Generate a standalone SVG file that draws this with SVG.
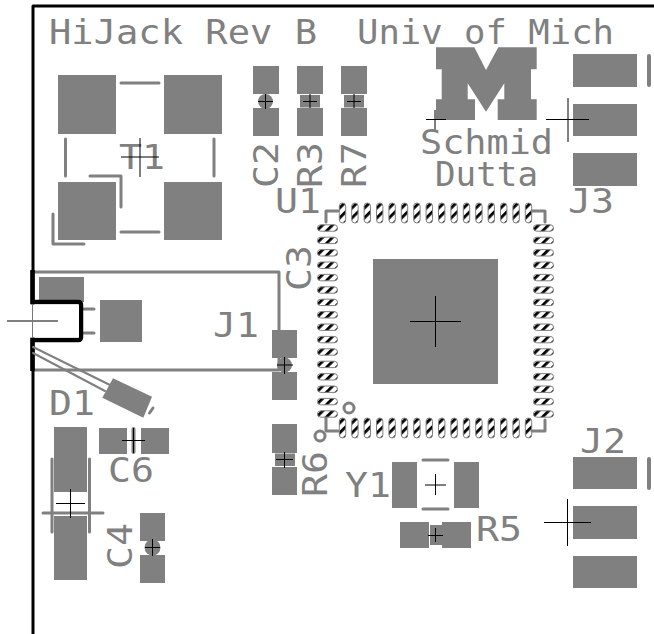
<svg xmlns="http://www.w3.org/2000/svg" width="654" height="634" viewBox="0 0 654 634">
<style>
.p{fill:#808080}
.l{fill:none;stroke:#808080;stroke-width:3;stroke-linecap:round;stroke-linejoin:round}
.x{fill:none;stroke:#000;stroke-width:1}
.t{font-family:"DejaVu Sans Mono","Liberation Mono",monospace;font-size:33px;fill:#808080}
.b{fill:none;stroke:#000;stroke-width:3;stroke-linejoin:round}
.pl{stroke:#808080;stroke-width:1}
</style>
<defs>
<pattern id="h" width="7" height="7" patternUnits="userSpaceOnUse" patternTransform="rotate(45)">
<rect width="7" height="7" fill="#fff"/><rect width="2.8" height="7" fill="#000"/>
</pattern>
<rect id="v" class="pl" x="-3.2" y="-10" width="6.400" height="20" rx="3.200" fill="url(#h)"/>
<rect id="w" class="pl" x="-10" y="-3.2" width="20" height="6.400" rx="3.200" fill="url(#h)"/>
<g id="row">
<use href="#v" x="342.5"/><use href="#v" x="354.9"/><use href="#v" x="367.3"/><use href="#v" x="379.7"/><use href="#v" x="392.1"/><use href="#v" x="404.5"/><use href="#v" x="416.9"/><use href="#v" x="429.3"/><use href="#v" x="441.7"/><use href="#v" x="454.1"/><use href="#v" x="466.5"/><use href="#v" x="478.9"/><use href="#v" x="491.3"/><use href="#v" x="503.7"/><use href="#v" x="516.1"/><use href="#v" x="528.5"/>
</g>
<g id="col">
<use href="#w" y="228"/><use href="#w" y="240.4"/><use href="#w" y="252.8"/><use href="#w" y="265.2"/><use href="#w" y="277.6"/><use href="#w" y="290"/><use href="#w" y="302.4"/><use href="#w" y="314.8"/><use href="#w" y="327.2"/><use href="#w" y="339.6"/><use href="#w" y="352"/><use href="#w" y="364.4"/><use href="#w" y="376.8"/><use href="#w" y="389.2"/><use href="#w" y="401.6"/><use href="#w" y="414"/>
</g>
</defs>
<rect width="654" height="634" fill="#fff"/>
<g id="title">
<text class="t" x="49" y="43.500" textLength="268" lengthAdjust="spacingAndGlyphs">HiJack Rev B</text>
<text class="t" x="357" y="43.500" textLength="257" lengthAdjust="spacingAndGlyphs">Univ of Mich</text>
</g>
<g id="J1">
<rect class="l" x="32" y="272" width="247" height="98"/>
<rect class="p" x="39" y="277" width="45" height="25"/>
<rect class="p" x="100" y="300" width="42" height="42"/>
<path class="l" d="M84 309H94M84 333H94"/>
<text class="t" x="213" y="337" textLength="46" lengthAdjust="spacingAndGlyphs">J1</text>
</g>
<g id="board">
<path class="b" d="M33 634V6H654"/>
<path d="M32.5 270V302H78Q81 302 81 305V337Q81 340 78 340H32.500V371" fill="none" stroke="#000" stroke-width="4.500"/>
<rect x="30" y="304.500" width="49" height="33" fill="#fff"/>
<path class="x" d="M7 321H58"/>
<path d="M32.500 304V338" stroke="#777" stroke-width="1"/>
</g>
<g id="T1">
<rect class="p" x="58" y="75" width="58" height="59"/>
<rect class="p" x="164" y="75" width="58" height="59"/>
<rect class="p" x="58" y="182" width="58" height="58"/>
<rect class="p" x="164" y="182" width="58" height="58"/>
<path class="l" d="M121 83H159M121 232H159M65.500 139V176M214 139V176M90 176H121V207M53 214V244H84"/>
<text class="t" x="119" y="169" textLength="46" lengthAdjust="spacingAndGlyphs">T1</text>
<path class="x" d="M121 157H159M140 138V177"/>
</g>
<g id="C2">
<rect class="p" x="253" y="66" width="26" height="28"/><rect class="p" x="253" y="108" width="26" height="28"/>
<circle class="p" cx="265.500" cy="101.500" r="7.500"/>
<path class="x" d="M258 101.500H273M265.500 94V109"/>
<text class="t" transform="translate(278 188) rotate(-90)" textLength="46" lengthAdjust="spacingAndGlyphs">C2</text>
</g>
<g id="R3">
<rect class="p" x="297" y="66" width="26" height="28"/><rect class="p" x="297" y="108" width="26" height="28"/>
<rect class="p" x="300" y="95" width="20" height="12.500"/>
<path class="x" d="M303 101.500H317M310 94V108"/>
<text class="t" transform="translate(322 188) rotate(-90)" textLength="46" lengthAdjust="spacingAndGlyphs">R3</text>
</g>
<g id="R7">
<rect class="p" x="341" y="66" width="26" height="28"/><rect class="p" x="341" y="108" width="26" height="28"/>
<rect class="p" x="344" y="95" width="20" height="12.500"/>
<path class="x" d="M347 101.500H361M354 94V108"/>
<text class="t" transform="translate(366 188) rotate(-90)" textLength="46" lengthAdjust="spacingAndGlyphs">R7</text>
</g>
<g id="logo">
<path class="p" d="M436 47.300H474.300L486 70L498.300 47.300H536.700V69.300H531V99.300H536.700V120H497.700V99.300H504.300V83.300L486 111.700L467.700 83.300V99.300H475V120H436V99.300H441.700V69.300H436Z"/>
<path class="x" d="M426 119.500H446M435 110V130"/>
<text class="t" x="420" y="154" textLength="133" lengthAdjust="spacingAndGlyphs">Schmid</text>
<text class="t" x="435" y="186" textLength="103" lengthAdjust="spacingAndGlyphs">Dutta</text>
</g>
<g id="J3">
<rect class="p" x="573" y="54" width="64" height="33"/><rect class="p" x="573" y="104" width="64" height="32"/><rect class="p" x="573" y="153" width="64" height="33"/>
<path d="M649 56V85" class="l" style="stroke-width:4"/>
<path class="x" d="M546 119.500H589M568 98V142"/>
<text class="t" x="568" y="213" textLength="46" lengthAdjust="spacingAndGlyphs">J3</text>
</g>
<g id="U1">
<use href="#row" y="213"/><use href="#row" y="428"/>
<use href="#col" x="327.500"/><use href="#col" x="543.500"/>
<rect class="p" x="373" y="259" width="125" height="125"/>
<path class="l" d="M326 222V211H338M532 211H545V222M326 418V431H338M532 431H545V420"/>
<circle class="l" cx="320" cy="436" r="5"/><circle class="l" cx="349" cy="408" r="5"/>
<path d="M435.500 296V347M410 321.500H461" stroke="#000" stroke-width="1"/>
<text class="t" x="275" y="213" textLength="46" lengthAdjust="spacingAndGlyphs">U1</text>
</g>
<g id="C3"><text class="t" transform="translate(311 291) rotate(-90)" textLength="46" lengthAdjust="spacingAndGlyphs">C3</text></g>
<g id="C5">
<rect class="p" x="272" y="330" width="25" height="28"/><rect class="p" x="272" y="372" width="25" height="28"/>
<circle class="p" cx="284.500" cy="365" r="7.500"/>
<path class="x" d="M277 365H293M284.500 357V374"/>
</g>
<g id="D1">
<path class="l" style="stroke-width:2" d="M33 347L110 385M33 353L105 391"/>
<path class="p" d="M113 378.300L152 396.700L143.300 417.700L102.300 397.700Z"/>
<path class="l" d="M149.500 413L153 408"/>
<text class="t" x="49" y="415" textLength="46" lengthAdjust="spacingAndGlyphs">D1</text>
</g>
<g id="R6">
<rect class="p" x="272" y="424" width="25" height="29"/><rect class="p" x="272" y="467" width="25" height="28"/>
<rect class="p" x="275" y="453.500" width="20" height="12.500"/>
<path class="x" d="M276 459.500H293M284.500 452V468"/>
<text class="t" transform="translate(327 497) rotate(-90)" textLength="46" lengthAdjust="spacingAndGlyphs">R6</text>
</g>
<g id="C6">
<rect class="p" x="99" y="428" width="28" height="26"/><rect class="p" x="141" y="428" width="28" height="26"/>
<path class="l" style="stroke-width:4" d="M133.500 429V452"/>
<path class="x" d="M122 440.500H145M133.500 428V453"/>
<text class="t" x="108" y="482" textLength="46" lengthAdjust="spacingAndGlyphs">C6</text>
</g>
<g id="C1">
<rect class="p" x="54" y="427" width="33" height="65"/><rect class="p" x="54" y="516" width="33" height="64"/>
<path class="l" d="M52 459V532M89.500 459V532M43 513H103"/>
<path class="x" d="M56 503.500H85M70.500 489V518"/>
</g>
<g id="C4">
<rect class="p" x="140" y="513" width="25" height="28"/><rect class="p" x="140" y="555" width="25" height="28"/>
<circle class="p" cx="152.500" cy="547.500" r="8"/>
<path class="x" d="M145 547.500H160M152.500 539V556"/>
<text class="t" transform="translate(132 569) rotate(-90)" textLength="46" lengthAdjust="spacingAndGlyphs">C4</text>
</g>
<g id="Y1">
<rect class="p" x="392" y="462" width="25" height="46"/><rect class="p" x="454" y="462" width="25" height="46"/>
<path class="l" d="M423 460H448M423 509H448"/>
<path class="x" d="M425 485H446M435.500 474V495"/>
<text class="t" x="345" y="497" textLength="46" lengthAdjust="spacingAndGlyphs">Y1</text>
</g>
<g id="R5">
<rect class="p" x="400" y="522" width="29" height="26"/><rect class="p" x="442" y="522" width="29" height="26"/>
<rect class="p" x="430" y="525" width="12" height="20"/>
<path class="x" d="M428 535.500H443M435.500 528V542"/>
<text class="t" x="476" y="541" textLength="46" lengthAdjust="spacingAndGlyphs">R5</text>
</g>
<g id="J2">
<rect class="p" x="573" y="457" width="64" height="32"/><rect class="p" x="573" y="506" width="64" height="33"/><rect class="p" x="573" y="556" width="64" height="32"/>
<path d="M649 459V488" class="l" style="stroke-width:4"/>
<path class="x" d="M544 522.500H591M567.500 499V546"/>
<text class="t" x="580" y="453" textLength="46" lengthAdjust="spacingAndGlyphs">J2</text>
</g>
</svg>
